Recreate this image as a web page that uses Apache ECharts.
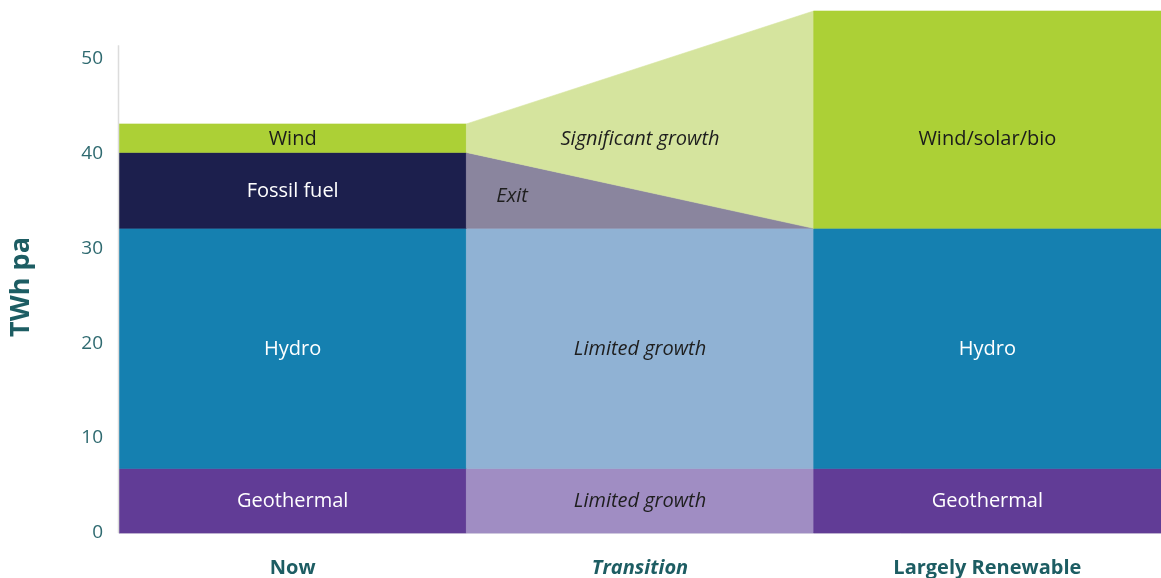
<!DOCTYPE html>
<html>
<head>
<meta charset="utf-8">
<title>TWh pa</title>
<script src="https://cdn.jsdelivr.net/npm/echarts@6/dist/echarts.min.js"></script>
<style>
  html, body { margin: 0; padding: 0; background: #fff; }
  #chart { width: 1161px; height: 578px; }
</style>
</head>
<body>
<div id="chart"></div>
<script>
// stages along the x axis
var categories = ['Now', 'Transition', 'Largely Renewable'];
// stacked layers, bottom to top (TWh pa)
var nowValues = [6.8, 25.3, 8.0, 3.0];
var renewableValues = [6.8, 25.3, 0, 22.9];
var nowLabels = ['Geothermal', 'Hydro', 'Fossil fuel', 'Wind'];
var transitionLabels = ['Limited growth', 'Limited growth', 'Exit', 'Significant growth'];
var renewableLabels = ['Geothermal', 'Hydro', '', 'Wind/solar/bio'];
var yTicks = [0, 10, 20, 30, 40, 50];

// colours: solid for the end states, pale for the transition
var solidColors = ['#613c96', '#1580b0', '#1c1f4d', '#acd036'];
var paleColors = ['#a08dc3', '#90b2d4', '#8a859e', '#d5e49e'];
var solidText = ['#ffffff', '#ffffff', '#ffffff', '#1b1b1b'];

var FONT = '"Open Sans", "Noto Sans", sans-serif';

function stackOf(values) {
    var out = [], acc = 0;
    for (var i = 0; i < values.length; i++) {
        out.push([acc, acc + values[i]]);
        acc += values[i];
    }
    return out;
}
var nowStack = stackOf(nowValues);
var renStack = stackOf(renewableValues);

function renderBlock(params, api) {
    var col = api.value(0);
    var center = api.coord([col, 0]);
    var half = api.size([1, 0])[0] / 2;
    var x0 = center[0] - half, x1 = center[0] + half;
    var bL = api.value(1), tL = api.value(2), bR = api.value(3), tR = api.value(4);
    if (tL - bL <= 0 && tR - bR <= 0) return;
    var layer = params.seriesIndex;
    var pale = col === 1;
    var color = pale ? paleColors[layer] : solidColors[layer];
    var label = col === 0 ? nowLabels[layer] : (col === 1 ? transitionLabels[layer] : renewableLabels[layer]);
    var ly = api.coord([col, api.value(5)])[1] + 1;
    var isExit = pale && layer === 2;
    return {
        type: 'group',
        children: [{
            type: 'polygon',
            shape: {
                points: [
                    [x0, api.coord([col, bL])[1]],
                    [x0, api.coord([col, tL])[1]],
                    [x1, api.coord([col, tR])[1]],
                    [x1, api.coord([col, bR])[1]]
                ]
            },
            style: { fill: color, stroke: color, lineWidth: 0.6 }
        }, {
            type: 'text',
            z2: 10,
            style: {
                text: label,
                x: isExit ? x0 + 30 : center[0],
                y: isExit ? ly + 5 : ly,
                align: isExit ? 'left' : 'center',
                verticalAlign: 'middle',
                fill: pale ? '#1e1e1e' : solidText[layer],
                font: (pale ? 'italic ' : '') + '20px ' + FONT
            }
        }]
    };
}

var series = [];
for (var i = 0; i < nowValues.length; i++) {
    var labelY = (nowStack[i][0] + nowStack[i][1]) / 2;
    series.push({
        name: nowLabels[i],
        type: 'custom',
        renderItem: renderBlock,
        encode: { x: 0, y: [1, 2, 3, 4] },
        data: [
            [0, nowStack[i][0], nowStack[i][1], nowStack[i][0], nowStack[i][1], labelY],
            [1, nowStack[i][0], nowStack[i][1], renStack[i][0], renStack[i][1], labelY],
            [2, renStack[i][0], renStack[i][1], renStack[i][0], renStack[i][1], labelY]
        ]
    });
}
// short vertical axis line that stops just above 50
series.push({
    type: 'custom',
    silent: true,
    z: 5,
    renderItem: function (params, api) {
        var c = api.coord([0, 0]);
        var x = c[0] - api.size([1, 0])[0] / 2 - 0.5;
        return {
            type: 'line',
            shape: { x1: x, y1: c[1], x2: x, y2: api.coord([0, api.value(1)])[1] },
            style: { stroke: '#dcdcdc', lineWidth: 1.5 }
        };
    },
    data: [[0, 51.4]]
});

var myChart = echarts.init(document.getElementById('chart'));
var option = {
    animation: false,
    grid: { left: 116, right: -6, top: 11, bottom: 45 },
    xAxis: {
        type: 'category',
        data: categories,
        boundaryGap: true,
        axisLine: { show: true, lineStyle: { color: '#e4e2ea', width: 1 } },
        axisTick: { show: false },
        axisLabel: {
            margin: 25,
            color: '#1d5d63',
            fontFamily: FONT,
            fontSize: 20,
            fontWeight: 'bold',
            formatter: function (v) { return v === 'Transition' ? '{it|' + v + '}' : v; },
            rich: {
                it: { fontStyle: 'italic', fontWeight: 'bold', fontSize: 20, fontFamily: FONT, color: '#1d5d63' }
            }
        }
    },
    yAxis: {
        type: 'value',
        min: 0,
        max: 55,
        interval: 10,
        name: 'TWh pa',
        nameLocation: 'middle',
        nameRotate: 90,
        nameGap: 84,
        nameTextStyle: {
            color: '#1d5d63', fontFamily: FONT, fontSize: 27, fontWeight: 'bold',
            padding: [0, 30, 0, 0]
        },
        axisLine: { show: false },
        axisTick: { show: false },
        splitLine: { show: false },
        axisLabel: {
            margin: 16,
            color: '#2f6a70',
            fontFamily: FONT,
            fontSize: 19,
            showMaxLabel: false,
            formatter: function (v) { return yTicks.indexOf(v) >= 0 ? String(v) : ''; }
        }
    },
    series: series
};
myChart.setOption(option);
window.addEventListener('resize', function () {
    myChart.resize();
});
</script>
</body>
</html>
